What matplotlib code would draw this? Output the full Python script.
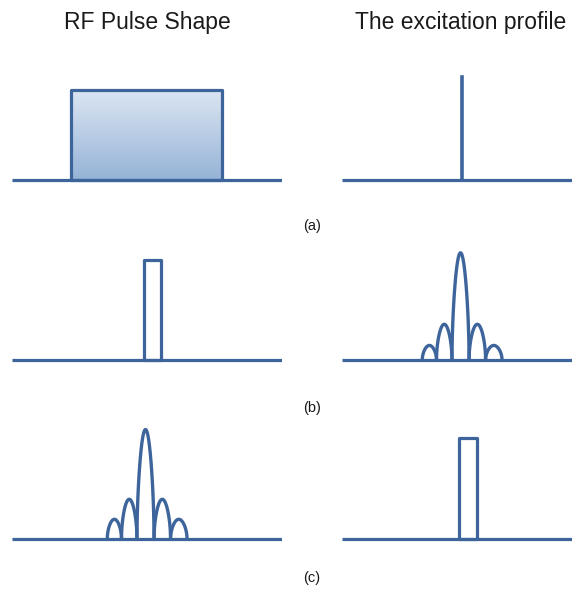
import numpy as np
import matplotlib
matplotlib.use("Agg")
import matplotlib.pyplot as plt
from matplotlib.patches import Rectangle

plt.rcParams["font.family"] = ["Liberation Sans", "DejaVu Sans"]

W, H = 574, 594
BLUE = "#3d659c"

col_titles = ["RF Pulse Shape", "The excitation profile"]
row_labels = ["(a)", "(b)", "(c)"]

# pulse geometry (time / frequency units, amplitude normalised)
wide_rect = (-5.05, 5.0, 0.79)          # x0, x1, height
narrow_rect_b = (-0.2, 0.93, 0.875)
narrow_rect_c = (-0.2, 1.0, 0.89)
spike = (0.0, 0.90)                      # x, height

# sinc-like lobes: zero crossings and lobe heights
sinc_zeros = [-2.65, -1.7, -0.67, 0.47, 1.57, 2.67]
sinc_heights_b = [0.13, 0.315, 0.94, 0.315, 0.13]
sinc_heights_c = [0.175, 0.35, 0.96, 0.35, 0.175]

# layout in pixels
col_px = [(12, 282, (-9, 9)), (342, 572, (-8, 7.33))]
baselines = [180, 360, 539]
label_y = [226, 408, 578]


def panel(col, row):
    x0, x1, xlim = col_px[col]
    base = baselines[row]
    ax = fig.add_axes([x0 / W, 1 - (base + 6) / H, (x1 - x0) / W, 120 / H])
    ax.set_xlim(*xlim)
    ax.set_ylim(-0.05, 1.0)
    ax.axis("off")
    ax.plot(xlim, [0, 0], color=BLUE, lw=2.3, solid_capstyle="butt", zorder=3)
    return ax


def lobes(ax, zeros, heights):
    for a, b, h in zip(zeros[:-1], zeros[1:], heights):
        u = np.linspace(0, 1, 120)
        p = 0.55 if h > 0.5 else 0.5
        y = h * np.sin(np.pi * u) ** p
        ax.plot(a + (b - a) * u, y, color=BLUE, lw=2.4, zorder=4)


def box(ax, spec, fill=None):
    x0, x1, h = spec
    if fill is not None:
        grad = np.linspace(0, 1, 256).reshape(-1, 1)
        cmap = matplotlib.colors.LinearSegmentedColormap.from_list(
            "g", ["#dce6f2", "#95b3d7"])
        im = ax.imshow(grad, cmap=cmap, aspect="auto",
                       extent=(x0, x1, 0, h), origin="upper", zorder=1)
        clip = Rectangle((x0, 0), x1 - x0, h, transform=ax.transData)
        im.set_clip_path(clip)
        ax.set_ylim(-0.05, 1.0)
    ax.add_patch(Rectangle((x0, 0), x1 - x0, h, fill=False, edgecolor=BLUE,
                           lw=2.3, joinstyle="round", zorder=4))


fig = plt.figure(figsize=(W / 100, H / 100), dpi=100)

ax = panel(0, 0)
box(ax, wide_rect, fill=True)
ax.set_xlim(*col_px[0][2])
ax = panel(1, 0)
ax.plot([spike[0], spike[0]], [0, spike[1]], color=BLUE, lw=2.6, zorder=4)

ax = panel(0, 1)
box(ax, narrow_rect_b)
ax = panel(1, 1)
lobes(ax, sinc_zeros, sinc_heights_b)

ax = panel(0, 2)
lobes(ax, sinc_zeros, sinc_heights_c)
ax = panel(1, 2)
box(ax, narrow_rect_c)

for cx, t in zip([147, 461], col_titles):
    fig.text(cx / W, 1 - 22 / H, t, ha="center", va="center",
             fontsize=16.5, color="#1a1a1a")
for y, t in zip(label_y, row_labels):
    fig.text(312 / W, 1 - y / H, t, ha="center", va="center",
             fontsize=10.5, color="#1a1a1a")

fig.savefig("out.png", dpi=100, facecolor="white")
